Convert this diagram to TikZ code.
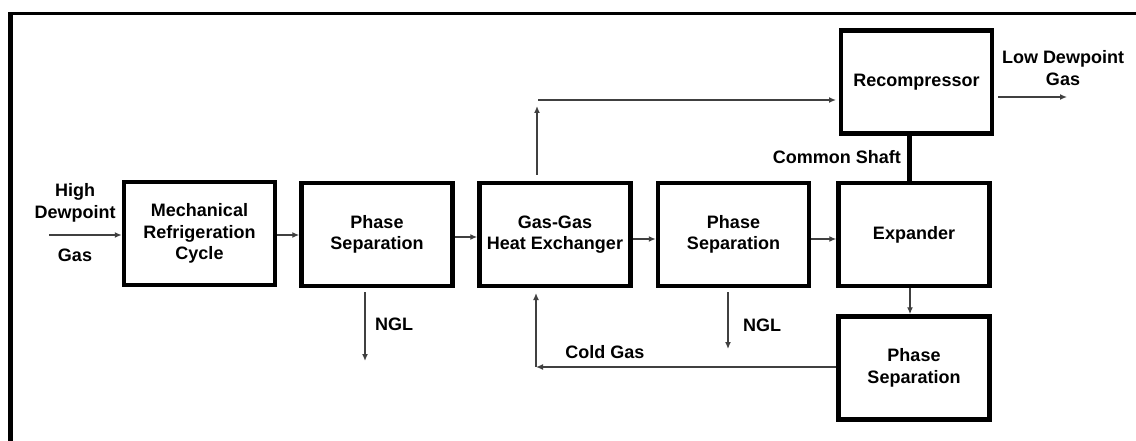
\documentclass[tikz,border=0pt]{standalone}
\usepackage{fontspec}
\setmainfont{Liberation Sans}
\usetikzlibrary{arrows.meta}
\begin{document}
\begin{tikzpicture}[x=1pt,y=-1pt,
  blockbox/.style={draw=black,line width=4.5pt,minimum width=151pt,minimum height=103pt,inner sep=0pt,align=center,font=\fontsize{18}{21.5}\selectfont\bfseries},
  lbl/.style={inner sep=0pt,align=center,font=\fontsize{18}{21.5}\selectfont\bfseries},
  flow/.style={draw=black!75,line width=1.3pt,-{Latex[length=7pt,width=6pt]}},
  plainflow/.style={draw=black!75,line width=1.3pt}]
\useasboundingbox (0,0) rectangle (1136,441);
% outer frame
\draw[line width=5pt] (10.5,441) -- (10.5,13.5);
\draw[line width=3.5pt] (8,13.5) -- (1136,13.5);
% blocks
\node[blockbox] (mrc) at (199.5,233.5) {Mechanical\\Refrigeration\\Cycle};
\node[blockbox] (ps1) at (377,234.5) {Phase\\Separation};
\node[blockbox] (hx) at (555,234.5) {Gas-Gas\\Heat Exchanger};
\node[blockbox] (ps2) at (733.5,234.5) {Phase\\Separation};
\node[blockbox] (exp) at (914,234.5) {Expander};
\node[blockbox] (rec) at (916.5,82) {Recompressor};
\node[blockbox] (ps3) at (914,368) {Phase\\Separation};
% labels
\node[lbl] (hdg) at (75,203) {High\\Dewpoint};
\node[lbl] (hdgas) at (75,255) {Gas};
\node[lbl] (ldg) at (1063,68) {Low Dewpoint\\Gas};
\node[lbl,anchor=east] (shaft) at (901,157) {Common Shaft};
\node[lbl] (ngl1) at (394,324) {NGL};
\node[lbl] (ngl2) at (762,325) {NGL};
\node[lbl] (cold) at (605,352) {Cold Gas};
% coordinates
\coordinate (in) at (49,235);
\coordinate (hxup0) at (537,175);
\coordinate (hxup1) at (537,106);
\coordinate (top0) at (538,100);
\coordinate (top1) at (836,100);
\coordinate (out0) at (998,97);
\coordinate (out1) at (1067,97);
\coordinate (n1a) at (365,292);
\coordinate (n1b) at (365,361);
\coordinate (n2a) at (728,292);
\coordinate (n2b) at (728,349);
\coordinate (cg) at (536,367);
\coordinate (cgup) at (536,293);
% connectors
\draw[flow] (in) -- (in -| mrc.west);
\draw[flow] (mrc.east |- 0,235) -- (ps1.west |- 0,235);
\draw[flow] (ps1.east |- 0,237) -- (hx.west |- 0,237);
\draw[flow] (hx.east |- 0,239) -- (ps2.west |- 0,239);
\draw[flow] (ps2.east |- 0,239) -- (exp.west |- 0,239);
\draw[flow] (hxup0) -- (hxup1);
\draw[flow] (top0) -- (top1);
\draw[flow] (out0) -- (out1);
\draw[line width=5pt] (rec.south -| 909,0) -- (exp.north -| 909,0);
\draw[flow] (exp.south -| 910,0) -- (ps3.north -| 910,0);
\draw[flow] (n1a) -- (n1b);
\draw[flow] (n2a) -- (n2b);
\draw[flow] (ps3.west |- cg) -- (cg);
\draw[flow] (cg) -- (cgup);
\end{tikzpicture}
\end{document}
